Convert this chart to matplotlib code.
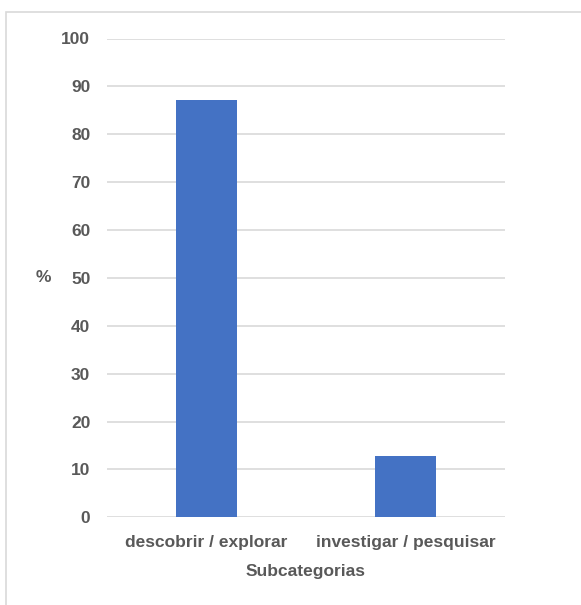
import matplotlib
matplotlib.use("Agg")
import matplotlib.pyplot as plt
from matplotlib.patches import Rectangle

categories = ["descobrir / explorar", "investigar / pesquisar"]
percent = [87.2, 12.8]
yticks = [0, 10, 20, 30, 40, 50, 60, 70, 80, 90, 100]

W, H = 581, 605
fig = plt.figure(figsize=(W / 100, H / 100), dpi=100)
plt.rcParams["font.family"] = ["Liberation Sans", "DejaVu Sans"]

text_color = "#595959"
grid_color = "#d9d9d9"
fs = 12.5

# chart frame (runs off the right and bottom edges)
fig.patches.append(Rectangle((6 / W, -0.05), 1.2, 1 - 11.5 / H + 0.05,
                             transform=fig.transFigure, fill=False,
                             edgecolor="#d9d9d9", linewidth=1.2))

left, right = 107, 505
top, bottom = 38.5, 517.3
ax = fig.add_axes([left / W, 1 - bottom / H, (right - left) / W, (bottom - top) / H])

x = range(len(categories))
ax.bar(x, percent, width=0.31, color="#4472C4", zorder=3)

ax.set_xlim(-0.5, len(categories) - 0.5)
ax.set_ylim(0, 100)
ax.set_yticks(yticks)
ax.set_xticks(list(x))
ax.set_xticklabels(categories)

for s in ax.spines.values():
    s.set_visible(False)
ax.yaxis.grid(True, color=grid_color, linewidth=1.2, zorder=0)
ax.tick_params(axis="both", length=0, labelsize=fs, labelcolor=text_color)
ax.tick_params(axis="y", pad=12)
ax.tick_params(axis="x", pad=12.5)
for lbl in ax.get_xticklabels() + ax.get_yticklabels():
    lbl.set_fontweight("bold")

ax.set_xlabel("Subcategorias", fontsize=fs, fontweight="bold", color=text_color, labelpad=10)
fig.text(43 / W, 1 - 278 / H, "%", fontsize=fs, fontweight="bold",
         color=text_color, ha="center", va="center")

fig.savefig("out.png", dpi=100, facecolor="white")
